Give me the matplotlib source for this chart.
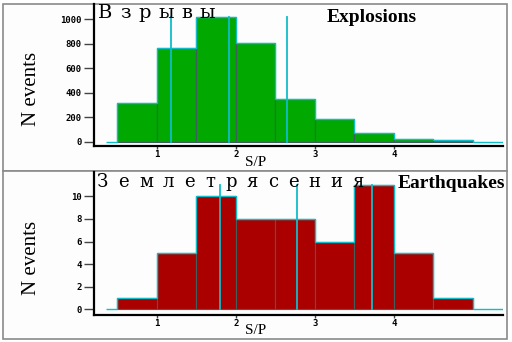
import matplotlib
matplotlib.use('Agg')
import matplotlib.pyplot as plt
from matplotlib.patches import Rectangle

# histogram data (S/P ratio)
bin_left = [0.5, 1.0, 1.5, 2.0, 2.5, 3.0, 3.5, 4.0, 4.5]
bin_width = 0.5
expl_counts = [320, 768, 1016, 809, 351, 183, 69, 20, 11]
quake_counts = [1, 5, 10, 8, 8, 6, 11, 5, 1]
expl_lines = [1.18, 1.91, 2.65]
quake_lines = [1.80, 2.77, 3.73]
xticks = [1, 2, 3, 4]
expl_yticks = [0, 200, 400, 600, 800, 1000]
quake_yticks = [0, 2, 4, 6, 8, 10]

W, H = 512, 342
green = '#00a800'
red = '#aa0000'
cyan = '#10bcc8'
edge = '#3f5f5f'
bg = '#fcfdfc'

fig = plt.figure(figsize=(W / 100, H / 100), dpi=100)
fig.patch.set_facecolor('white')

def px(x, y):
    return x / W, 1 - y / H

# panel frames
for y0, y1 in [(4, 171), (171, 339)]:
    fig.patches.append(Rectangle(px(2.5, y1), 504 / W, (y1 - y0) / H,
                                 transform=fig.transFigure, facecolor=bg,
                                 edgecolor='#8a8a8a', linewidth=1.2, zorder=-5))

def make_axes(top_px, bottom_px, ylim):
    l, b = px(94, bottom_px)
    ax = fig.add_axes([l, b, (502.7 - 94) / W, (bottom_px - top_px) / H])
    ax.set_zorder(2)
    ax.set_facecolor('none')
    ax.set_xlim(0.205, 5.38)
    ax.set_ylim(*ylim)
    for s in ['top', 'right']:
        ax.spines[s].set_visible(False)
    for s in ['left', 'bottom']:
        ax.spines[s].set_linewidth(1.6)
        ax.spines[s].set_color('black')
    ax.tick_params(axis='y', length=7, width=1, pad=2, color='#444444')
    ax.tick_params(axis='x', length=2, width=1, pad=1, color='#444444')
    return ax

def draw_hist(ax, counts, color, lines, yticks, ymax_line):
    ax.bar(bin_left, counts, width=bin_width, align='edge', color=color,
           edgecolor=edge, linewidth=0.8, zorder=2)
    edges = [0.36] + bin_left + [bin_left[-1] + bin_width, 5.38]
    vals = [0] + counts + [0]
    ax.stairs(vals, edges, baseline=None, color=cyan, linewidth=1.0, zorder=3)
    for x in lines:
        ax.plot([x, x], [0, ymax_line], color=cyan, linewidth=1.3, zorder=4)
    ax.set_xticks(xticks)
    ax.set_yticks(yticks)
    for lab in ax.get_xticklabels() + ax.get_yticklabels():
        lab.set_fontfamily('DejaVu Sans Mono')
        lab.set_fontweight('bold')
        lab.set_fontsize(6.5)

ax1 = make_axes(4, 145.7, (-33, 1125))
draw_hist(ax1, expl_counts, green, expl_lines, expl_yticks, max(expl_counts))

ax2 = make_axes(172, 315, (-0.5, 12.15))
draw_hist(ax2, quake_counts, red, quake_lines, quake_yticks, max(quake_counts))

# labels
for yc in [89, 258]:
    x, y = px(32, yc)
    fig.text(x, y, 'N events', rotation=90, ha='center', va='center',
             family='Liberation Serif', fontsize=15)
for yc in [163, 331]:
    x, y = px(256, yc)
    fig.text(x, y, 'S/P', ha='center', va='center',
             family='Liberation Serif', fontsize=11)

x, y = px(372, 18)
fig.text(x, y, 'Explosions', ha='center', va='center', zorder=6,
         family='Liberation Serif', fontweight='bold', fontsize=14)
x, y = px(398, 184)
fig.text(x, y, 'Earthquakes', ha='left', va='center', zorder=6,
         family='Liberation Serif', fontweight='bold', fontsize=14)

# letter-spaced Russian titles
renderer = fig.canvas.get_renderer()

def spaced_text(x0, baseline, s, gap, size):
    x = x0
    for ch in s:
        fx, fy = px(x, baseline)
        t = fig.text(fx, fy, ch, ha='left', va='baseline',
                     family='DejaVu Serif', fontsize=size, zorder=6)
        w = t.get_window_extent(renderer).width
        x += w + gap

spaced_text(98, 18, 'Взрывы', 7.5, 14)
spaced_text(97, 187, 'Землетрясения', 10, 13)

fig.savefig('out.png', dpi=100, facecolor=fig.get_facecolor())
